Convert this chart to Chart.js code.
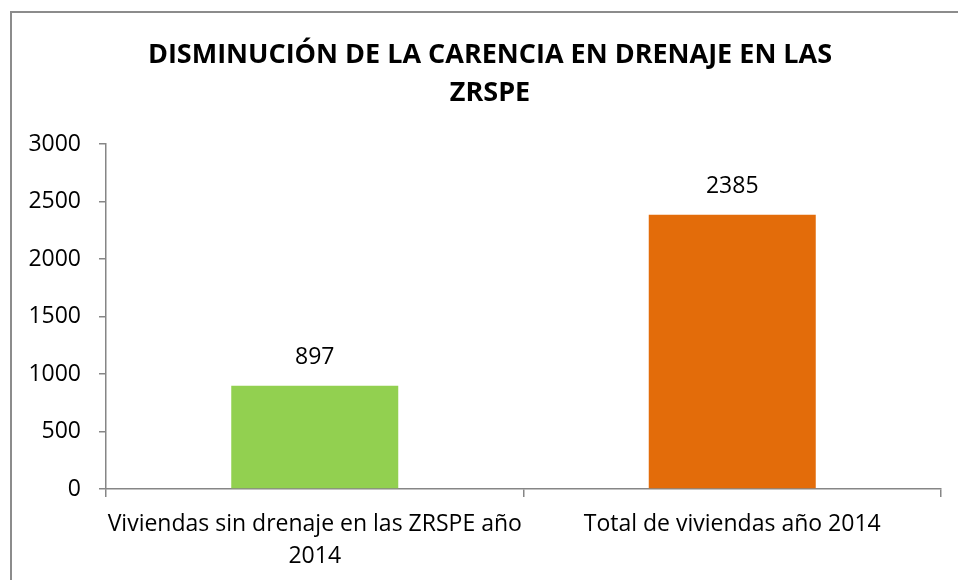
<!DOCTYPE html>
<html>
<head>
<meta charset="utf-8">
<script src="https://cdn.jsdelivr.net/npm/chart.js@4/dist/chart.umd.min.js"></script>
<style>
  html, body { margin: 0; padding: 0; background: #fff; overflow: hidden; }
  #wrap { position: relative; width: 958px; height: 580px; }
  #frame {
    position: absolute; left: 10px; top: 11px;
    width: 2000px; height: 2000px;
    border-left: 2px solid #8c8c8c; border-top: 2px solid #8c8c8c;
  }
  canvas { position: absolute; left: 0; top: 0; }
</style>
</head>
<body>
<div id="wrap">
  <div id="frame"></div>
  <canvas id="chart" width="958" height="580"></canvas>
</div>
<script>
const titleLines = ['DISMINUCIÓN DE LA CARENCIA EN DRENAJE EN LAS', 'ZRSPE'];
const categories = [['Viviendas sin drenaje en las ZRSPE año', '2014'], 'Total de viviendas año 2014'];
const values = [897, 2385];
const barColors = ['#92d050', '#e36c0a'];
const yTicks = [0, 500, 1000, 1500, 2000, 2500, 3000];

const FONT = '"Open Sans", sans-serif';
const axisGray = '#868686';

// title is centred on the whole frame, not on the plot, so draw it here
const frameTitle = {
  id: 'frameTitle',
  afterDraw(chart) {
    const ctx = chart.ctx;
    ctx.save();
    ctx.font = 'bold 27px ' + FONT;
    ctx.fillStyle = '#000';
    ctx.textAlign = 'center';
    ctx.textBaseline = 'middle';
    titleLines.forEach((line, i) => ctx.fillText(line, 490, 55 + i * 38.5));
    ctx.restore();
  }
};

// labels above bars
const valueLabels = {
  id: 'valueLabels',
  afterDatasetsDraw(chart) {
    const ctx = chart.ctx;
    const meta = chart.getDatasetMeta(0);
    ctx.save();
    ctx.font = '23px ' + FONT;
    ctx.fillStyle = '#000';
    ctx.textAlign = 'center';
    ctx.textBaseline = 'middle';
    meta.data.forEach((bar, i) => {
      ctx.fillText(String(values[i]), bar.x, bar.y - 28);
    });
    ctx.restore();
  }
};

new Chart(document.getElementById('chart'), {
  type: 'bar',
  data: {
    labels: categories,
    datasets: [{
      data: values,
      backgroundColor: barColors,
      categoryPercentage: 1,
      barPercentage: 0.4
    }]
  },
  options: {
    responsive: false,
    animation: false,
    layout: { padding: { top: 144, right: 17, bottom: 0, left: 0 } },
    plugins: {
      legend: { display: false },
      tooltip: { enabled: false },
      title: { display: false }
    },
    scales: {
      x: {
        grid: { drawOnChartArea: false, offset: true, color: axisGray, tickLength: 8, lineWidth: 1.5 },
        border: { color: axisGray, width: 1.5 },
        ticks: { color: '#000', font: { family: FONT, size: 23, lineHeight: 1.37 }, padding: 12, maxRotation: 0 },
        afterFit(scale) { scale.height = 91; }
      },
      y: {
        min: 0,
        max: 3000,
        afterBuildTicks(scale) { scale.ticks = yTicks.map(v => ({ value: v })); },
        grid: { drawOnChartArea: false, color: axisGray, tickLength: 7, lineWidth: 1.5 },
        border: { color: axisGray, width: 1.5 },
        ticks: { color: '#000', font: { family: FONT, size: 23 }, padding: 18, callback: v => String(v) },
        afterFit(scale) { scale.width = 106; }
      }
    }
  },
  plugins: [valueLabels, frameTitle]
});
</script>
</body>
</html>
